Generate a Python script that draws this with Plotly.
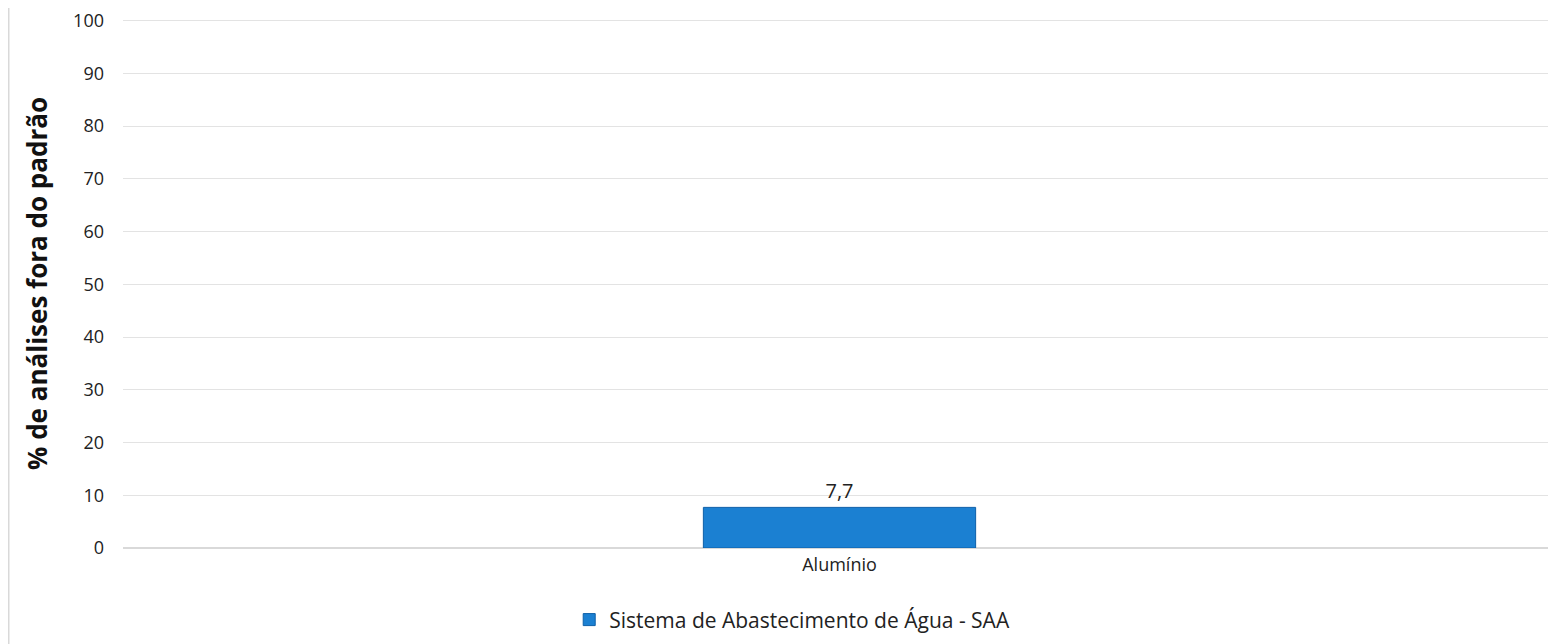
import plotly.graph_objects as go

categories = ["Alumínio"]
values = [7.7]
series_name = "Sistema de Abastecimento de Água - SAA"
y_ticks = [0, 10, 20, 30, 40, 50, 60, 70, 80, 90, 100]

fig = go.Figure()
fig.add_trace(go.Bar(
    x=categories, y=values, name=series_name,
    marker=dict(color="#1b80d2", line=dict(color="#0d5fa8", width=1)),
    texttemplate="%{y:.1f}", textposition="outside",
    textfont=dict(size=20, color="#222", family="Open Sans"),
    cliponaxis=False,
))

fig.update_layout(
    width=1548, height=636,
    separators=",.",
    margin=dict(l=115, r=0, t=8, b=96),
    plot_bgcolor="white", paper_bgcolor="white",
    bargap=0.81,
    font=dict(family="Open Sans", color="#222"),
    showlegend=True,
    legend=dict(orientation="h", x=0.467, xanchor="center", y=-0.136, yanchor="middle",
                font=dict(size=21, color="#222")),
    xaxis=dict(showgrid=False, showline=False, ticks="", tickfont=dict(size=18),
               ticklabelstandoff=4),
    yaxis=dict(range=[0, 100.3], tickvals=y_ticks, showgrid=True, gridcolor="#e3e3e3",
               zeroline=True, zerolinecolor="#d9d9d9", tickfont=dict(size=18),
               ticklabelstandoff=18, ticklabeloverflow="allow",
               title=dict(text="<b>% de análises fora do padrão</b>", font=dict(size=26, color="#111"),
                          standoff=18)),
    shapes=[dict(type="line", xref="paper", yref="paper", x0=-0.0799, x1=-0.0799,
                 y0=-0.2, y1=1.05, line=dict(color="#d9d9d9", width=2))],
)

fig.write_html("out.html")
